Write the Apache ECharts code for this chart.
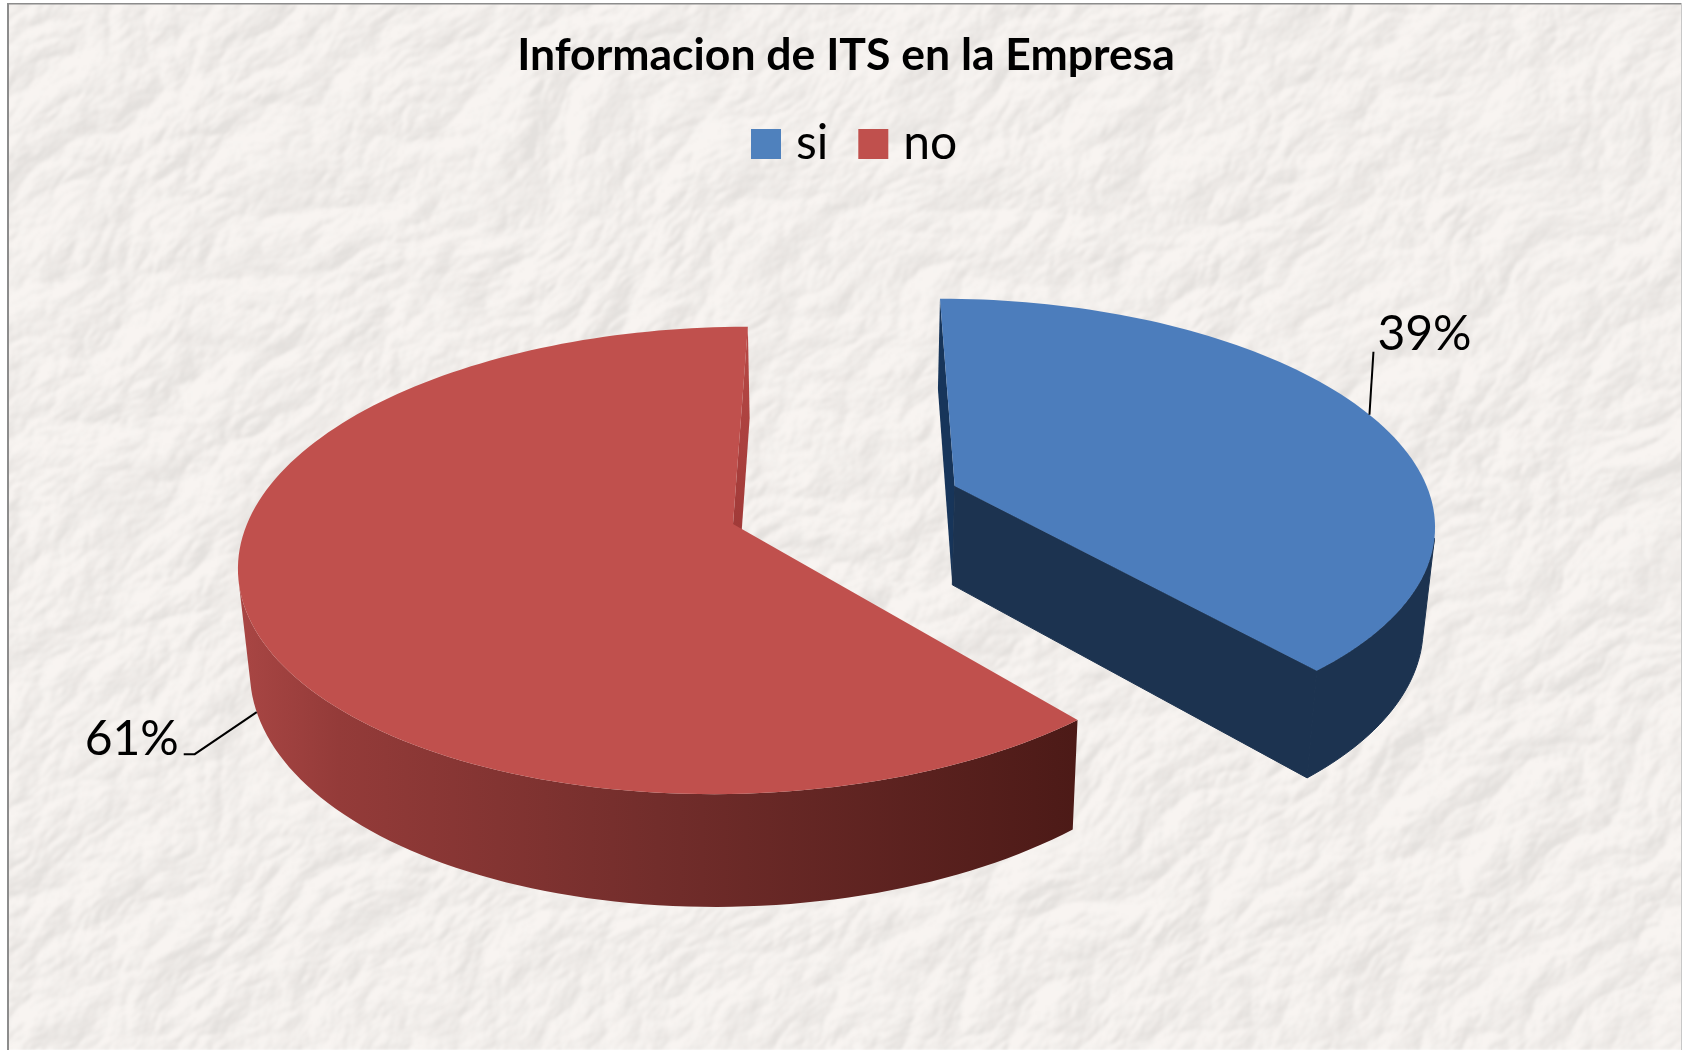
<!DOCTYPE html>
<html>
<head>
<meta charset="utf-8">
<style>html,body{margin:0;padding:0;background:#fff;overflow:hidden}#c{width:1682px;height:1050px}</style>
<script src="https://cdn.jsdelivr.net/npm/echarts@6/dist/echarts.min.js"></script>
</head>
<body>
<div id="c"></div>
<script>
const titleText = 'Informacion de ITS en la Empresa';
const categories = ['si', 'no'];
const values = [38.7, 61.3];
const topColors = ['#4c7dbc', '#c0504d'];
const legendColors = ['#4f81bd', '#c0504d'];

/* ---------- crumpled paper texture (deterministic) ---------- */
function fract(n){return n-Math.floor(n);}
function hash(i,j,s){return fract(Math.sin(i*127.1+j*311.7+s*74.7)*43758.5453);}
function gnoise(x,y,s){
  const i=Math.floor(x),j=Math.floor(y),fx=x-i,fy=y-j;
  const ux=fx*fx*(3-2*fx),uy=fy*fy*(3-2*fy);
  const g=(a,b,dx,dy)=>{const t=hash(a,b,s)*6.2832;return Math.cos(t)*dx+Math.sin(t)*dy;};
  const n00=g(i,j,fx,fy),n10=g(i+1,j,fx-1,fy),n01=g(i,j+1,fx,fy-1),n11=g(i+1,j+1,fx-1,fy-1);
  return (n00+(n10-n00)*ux)*(1-uy)+(n01+(n11-n01)*ux)*uy;
}
function paper(){
  const W=1682,H=1050,w=841,h=525;
  const hm=new Float32Array(w*h);
  for(let y=0;y<h;y++)for(let x=0;x<w;x++){
    const X=x*2,Y=y*2;
    const wx=X+34*gnoise(X/150,Y/150,11),wy=Y+34*gnoise(X/150,Y/150,12);
    const ax=(wx*0.55+wy*0.83)*1.5,ay=(-wx*0.83+wy*0.55);
    let v=0,amp=1,f=1/125;
    for(let o=0;o<5;o++){
      v+=amp*Math.abs(gnoise(ax*f,ay*f,o+1));
      amp*=0.53;f*=2.03;
    }
    hm[y*w+x]=v;
  }
  const low=document.createElement('canvas');low.width=w;low.height=h;
  const g=low.getContext('2d');const img=g.createImageData(w,h);const d=img.data;
  for(let y=0;y<h;y++)for(let x=0;x<w;x++){
    const xa=Math.max(0,x-1),xb=Math.min(w-1,x+1),ya=Math.max(0,y-1),yb=Math.min(h-1,y+1);
    const S=(hm[y*w+xb]-hm[y*w+xa])*0.8+(hm[yb*w+x]-hm[ya*w+x])*0.6;
    let L=240.5+S*105;
    L=Math.max(227,Math.min(246,L));
    const o=(y*w+x)*4;d[o]=L+1.5;d[o+1]=L-2;d[o+2]=L-5;d[o+3]=255;
  }
  g.putImageData(img,0,0);
  const c=document.createElement('canvas');c.width=W;c.height=H;
  const t=c.getContext('2d');t.fillStyle='#fff';t.fillRect(0,0,W,H);
  t.filter='blur(1px)';t.imageSmoothingEnabled=true;t.drawImage(low,0,0,W,H);t.filter='none';
  t.fillStyle='#fff';t.fillRect(0,0,7,H);t.fillRect(0,0,W,3);
  t.fillStyle='#8c8c8c';t.fillRect(7,3,2,H);t.fillRect(7,3,W-7,1.5);
  t.fillStyle='#c8c8c8';t.fillRect(W-1,3,1,H);
  return c;
}

/* ---------- projection of the tilted pie ---------- */
const P={vx:843,cx:733,cy:524,R:486,H:228,k:0.156,explode:0.493,blueR:0.997,
  botX:837,botSX:0.98,botSY:1.045,botDY:77};
const deg=Math.PI/180;
function proj(u,v){
  const s=1-P.k*v;
  return [P.vx+(P.cx-P.vx+P.R*u)/s, P.cy+P.H*v/s];
}
function low(p){return [P.botX+(p[0]-P.botX)*P.botSX, p[1]*P.botSY+P.botDY];}
const total=values.reduce((a,b)=>a+b,0);

function renderSlice(params,api){
  const i=params.seriesIndex;
  const val=api.value(0);
  const before=values.slice(0,i).reduce((a,b)=>a+b,0);
  const a0=before/total*360, a1=(before+val)/total*360, mid=(a0+a1)/2;
  const ou=i===0?P.explode*Math.sin(mid*deg):0;
  const ov=i===0?-P.explode*Math.cos(mid*deg):0;
  const rf=i===0?P.blueR:1;
  const pt=a=>proj(ou+rf*Math.sin(a*deg),ov-rf*Math.cos(a*deg));
  const arc=[];for(let a=a0;a<a1;a+=1.5)arc.push(pt(a));arc.push(pt(a1));
  const apex=proj(ou,ov);
  const A0=pt(a0),A1=pt(a1);
  /* keep only the part of the rim whose wall faces the viewer */
  const front=[];
  for(let n=0;n<arc.length-1;n++){
    const q=[arc[n],arc[n+1],low(arc[n+1]),low(arc[n])];
    let s=0;for(let m=0;m<4;m++){const b=q[(m+1)%4];s+=q[m][0]*b[1]-b[0]*q[m][1];}
    if(s<0){if(!front.length||front[front.length-1]!==arc[n])front.push(arc[n]);front.push(arc[n+1]);}
  }
  const kids=[];
  const poly=(pts,fill,stroke)=>kids.push({type:'polygon',shape:{points:pts},
    style:stroke?{fill:fill,stroke:stroke,lineWidth:1}:{fill:fill}});
  const outer=front.concat(front.map(low).reverse());
  if(i===0){
    poly(outer,'#1c3350','#1c3350');
    poly([A0,low(A0),low(apex),apex],'#17355a');
    poly([apex,A1,low(A1),low(apex)],'#1c3350','#1c3350');
    poly([apex].concat(arc),topColors[0]);
  }else{
    poly(outer,new echarts.graphic.LinearGradient(238,0,1078,0,[
      {offset:0,color:'#a94644'},{offset:0.12,color:'#943b39'},
      {offset:0.5,color:'#722d2b'},{offset:1,color:'#4c1a17'}],true));
    poly([A1,low(A1),low(apex),apex],new echarts.graphic.LinearGradient(0,327,0,530,[
      {offset:0,color:'#b84946'},{offset:1,color:'#a03a38'}],true));
    poly([apex].concat(arc),topColors[1]);
  }
  /* leader line and percent label at the slice's bisector */
  const m=pt(mid);
  const label=Math.round(val/total*100)+'%';
  const font='48px Lato, "Open Sans", sans-serif';
  if(i===0){
    const e=[m[0]+4,m[1]-63];
    kids.push({type:'polyline',shape:{points:[m,e]},style:{stroke:'#000',lineWidth:2,fill:null}});
    kids.push({type:'text',style:{text:label,x:e[0]+51,y:e[1]-17,textAlign:'center',textVerticalAlign:'middle',font:font,fill:'#000'}});
  }else{
    const b=low(m);
    const e=[b[0]-62,b[1]+42];
    const e2=[e[0]-11,e[1]];
    kids.push({type:'polyline',shape:{points:[b,e,e2]},style:{stroke:'#000',lineWidth:2,fill:null}});
    kids.push({type:'text',style:{text:label,x:e2[0]-52,y:e2[1]-15,textAlign:'center',textVerticalAlign:'middle',font:font,fill:'#000'}});
  }
  return {type:'group',children:kids};
}

const chart=echarts.init(document.getElementById('c'),null,{renderer:'canvas'});
chart.setOption({
  animation:false,
  backgroundColor:{image:paper(),repeat:'no-repeat'},
  title:{text:titleText,left:841,top:28,textAlign:'center',
    textStyle:{fontFamily:'Lato, "Open Sans", sans-serif',fontWeight:'bold',fontSize:44.5,color:'#000'}},
  legend:{left:746,top:115,itemWidth:30,itemHeight:30,itemGap:30,icon:'rect',
    data:categories.map((c,i)=>({name:c,itemStyle:{color:legendColors[i]}})),
    textStyle:{fontFamily:'Lato, "Open Sans", sans-serif',fontSize:48,color:'#000',padding:[0,0,0,10]}},
  series:categories.map((c,i)=>({
    type:'custom',name:c,coordinateSystem:'none',silent:true,
    itemStyle:{color:legendColors[i]},
    renderItem:renderSlice,
    data:[values[i]]
  }))
});
</script>
</body>
</html>
